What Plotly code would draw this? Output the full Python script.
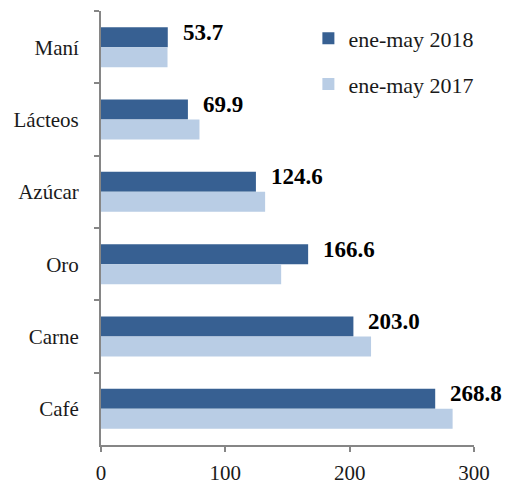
import plotly.graph_objects as go

categories = ["Maní", "Lácteos", "Azúcar", "Oro", "Carne", "Café"]
values_2018 = [53.7, 69.9, 124.6, 166.6, 203.0, 268.8]
values_2017 = [53.5, 79.2, 132.0, 144.9, 217.2, 282.8]
label_2018 = ["53.7", "69.9", "124.6", "166.6", "203.0", "268.8"]
series_names = ["ene-may 2018", "ene-may 2017"]
x_ticks = [0, 100, 200, 300]

FONT = "Liberation Serif"
DARK = "#376092"
LIGHT = "#B9CDE5"
AXIS = "#868686"

fig = go.Figure()
fig.add_trace(go.Bar(y=categories, x=values_2018, orientation="h", name=series_names[0],
                     marker=dict(color=DARK, line=dict(width=0)), legendgroup="a"))
fig.add_trace(go.Bar(y=categories, x=values_2017, orientation="h", name=series_names[1],
                     marker=dict(color=LIGHT, line=dict(width=0)), legendgroup="b"))

for c, v, t in zip(categories, values_2018, label_2018):
    fig.add_annotation(x=v, y=c, text="<b>%s</b>" % t, showarrow=False,
                       xanchor="left", yanchor="middle", xshift=13, yshift=15,
                       font=dict(family=FONT, size=23, color="#000000"))

fig.update_layout(
    width=502, height=475,
    margin=dict(l=93, r=36, t=3, b=38, autoexpand=False),
    paper_bgcolor="white", plot_bgcolor="white",
    barmode="group", bargap=0.447, bargroupgap=0,
    font=dict(family=FONT, size=21, color="#1a1a1a"),
    showlegend=True,
    legend=dict(x=0.556, y=0.985, xanchor="left", yanchor="top",
                traceorder="grouped", tracegroupgap=14,
                font=dict(family=FONT, size=22, color="#1a1a1a"),
                bgcolor="rgba(0,0,0,0)", itemwidth=30),
    xaxis=dict(range=[0, 300], tickvals=x_ticks, showgrid=False, zeroline=False,
               showline=True, linecolor=AXIS, linewidth=2,
               ticks="outside", ticklen=5, tickcolor=AXIS, tickwidth=2,
               ticklabelstandoff=3,
               tickfont=dict(family=FONT, size=21, color="#1a1a1a")),
    yaxis=dict(autorange="reversed", showgrid=False, zeroline=False,
               showline=True, linecolor=AXIS, linewidth=2,
               ticks="outside", ticklen=5, tickcolor=AXIS, tickwidth=2,
               tickson="boundaries", ticklabelstandoff=16,
               tickfont=dict(family=FONT, size=21, color="#1a1a1a")),
)

fig.write_html("out.html")
